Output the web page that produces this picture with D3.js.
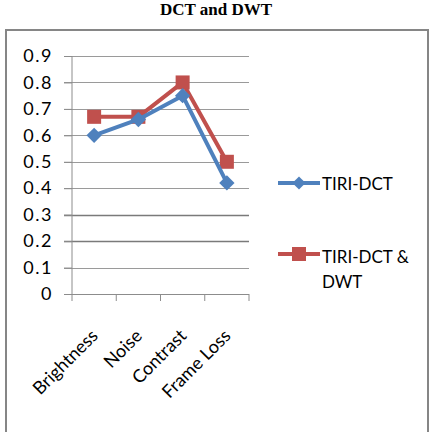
<!DOCTYPE html>
<html>
<head>
<meta charset="utf-8">
<script src="https://cdn.jsdelivr.net/npm/d3@7"></script>
<style>
  body { margin: 0; background: #fff; }
  text { font-family: Lato, "Open Sans", sans-serif; }
</style>
</head>
<body>
<div id="chart"></div>
<script>
var categories = ['Brightness', 'Noise', 'Contrast', 'Frame Loss'];
var tiriDct = [0.60, 0.66, 0.75, 0.42];
var tiriDctDwt = [0.67, 0.67, 0.80, 0.50];
var yTicks = [0, 0.1, 0.2, 0.3, 0.4, 0.5, 0.6, 0.7, 0.8, 0.9];
var seriesNames = ['TIRI-DCT', 'TIRI-DCT & DWT'];

var blue = '#4f81bd', red = '#c0504d';

var svg = d3.select('#chart').append('svg')
  .attr('width', 431).attr('height', 432);

// title
svg.append('text')
  .attr('x', 216).attr('y', 15)
  .attr('text-anchor', 'middle')
  .style('font-family', '"Liberation Serif", "Times New Roman", serif')
  .style('font-weight', 'bold')
  .style('font-size', '17px')
  .text('DCT and DWT');

// chart border
svg.append('rect')
  .attr('x', 6).attr('y', 30)
  .attr('width', 422).attr('height', 410)
  .attr('fill', 'none')
  .attr('stroke', '#868686')
  .attr('stroke-width', 2);

var plotLeft = 72, plotRight = 249, plotTop = 56, plotBottom = 294;

var x = d3.scaleBand().domain(categories).range([plotLeft, plotRight]);
var y = d3.scaleLinear().domain([0, 0.9]).range([plotBottom, plotTop]);

// gridlines
svg.append('g').selectAll('line').data(yTicks.slice(1)).enter().append('line')
  .attr('x1', plotLeft - 8).attr('x2', plotRight)
  .attr('y1', function(d) { return Math.round(y(d)) + 0.5; })
  .attr('y2', function(d) { return Math.round(y(d)) + 0.5; })
  .attr('stroke', function(d) { return (d === 0.2 || d === 0.3) ? '#7a7a7a' : '#9a9a9a'; })
  .attr('stroke-width', function(d) { return (d === 0.2 || d === 0.3) ? 1.5 : 1; });

// y axis
var yAxis = svg.append('g')
  .attr('transform', 'translate(' + plotLeft + ',0)')
  .call(d3.axisLeft(y).tickValues(yTicks).tickSize(8).tickPadding(12)
    .tickFormat(function(d) { return d === 0 ? '0' : d3.format('.1f')(d); }));
yAxis.selectAll('text').style('font-size', '18px').style('letter-spacing', '1.5px')
  .attr('x', -19).attr('fill', '#000');
yAxis.selectAll('line, path').attr('stroke', '#8c8c8c');
yAxis.select('.domain').attr('d', 'M0,' + plotTop + 'V' + plotBottom);

// x axis
var xAxis = svg.append('g')
  .attr('transform', 'translate(0,' + plotBottom + ')')
  .call(d3.axisBottom(x).tickSize(0).tickFormat(''));
xAxis.selectAll('path').attr('stroke', '#8c8c8c').attr('d', 'M' + (plotLeft - 8) + ',0.5H' + plotRight);
svg.append('g').selectAll('line').data(d3.range(categories.length + 1)).enter().append('line')
  .attr('x1', function(i) { return plotLeft + i * x.step(); })
  .attr('x2', function(i) { return plotLeft + i * x.step(); })
  .attr('y1', plotBottom).attr('y2', plotBottom + 7)
  .attr('stroke', '#8c8c8c');

svg.append('g').selectAll('text').data(categories).enter().append('text')
  .attr('transform', function(d) {
    return 'translate(' + (x(d) + x.bandwidth() / 2 - 4) + ',' + (plotBottom + 34) + ') rotate(-45)';
  })
  .attr('text-anchor', 'end')
  .attr('dy', '0.7em')
  .style('font-size', '18px')
  .text(function(d) { return d; });

var line = d3.line()
  .x(function(d, i) { return x(categories[i]) + x.bandwidth() / 2; })
  .y(function(d) { return y(d); });

// red series
svg.append('path').datum(tiriDctDwt)
  .attr('d', line).attr('fill', 'none')
  .attr('stroke', red).attr('stroke-width', 4).attr('stroke-linejoin', 'round');
svg.append('g').selectAll('rect').data(tiriDctDwt).enter().append('rect')
  .attr('x', function(d, i) { return x(categories[i]) + x.bandwidth() / 2 - 7; })
  .attr('y', function(d) { return y(d) - 7; })
  .attr('width', 14).attr('height', 14)
  .attr('fill', red);

// blue series
svg.append('path').datum(tiriDct)
  .attr('d', line).attr('fill', 'none')
  .attr('stroke', blue).attr('stroke-width', 4).attr('stroke-linejoin', 'round');
svg.append('g').selectAll('path').data(tiriDct).enter().append('path')
  .attr('d', d3.symbol(d3.symbolDiamond2, 150))
  .attr('transform', function(d, i) {
    return 'translate(' + (x(categories[i]) + x.bandwidth() / 2) + ',' + y(d) + ')';
  })
  .attr('fill', blue);

// legend
var legend = svg.append('g');
legend.append('line').attr('x1', 278).attr('x2', 320).attr('y1', 183).attr('y2', 183)
  .attr('stroke', blue).attr('stroke-width', 4);
legend.append('path').attr('d', d3.symbol(d3.symbolDiamond2, 110))
  .attr('transform', 'translate(299,183)').attr('fill', blue);
legend.append('text').attr('x', 322).attr('y', 190).style('font-size', '17px').text(seriesNames[0]);

legend.append('line').attr('x1', 278).attr('x2', 320).attr('y1', 254).attr('y2', 254)
  .attr('stroke', red).attr('stroke-width', 4);
legend.append('rect').attr('x', 292).attr('y', 247).attr('width', 14).attr('height', 14)
  .attr('fill', red);
var lt = legend.append('text').attr('x', 322).attr('y', 263).style('font-size', '17px');
lt.append('tspan').attr('x', 322).text('TIRI-DCT &');
lt.append('tspan').attr('x', 322).attr('dy', 25).text('DWT');
</script>
</body>
</html>
